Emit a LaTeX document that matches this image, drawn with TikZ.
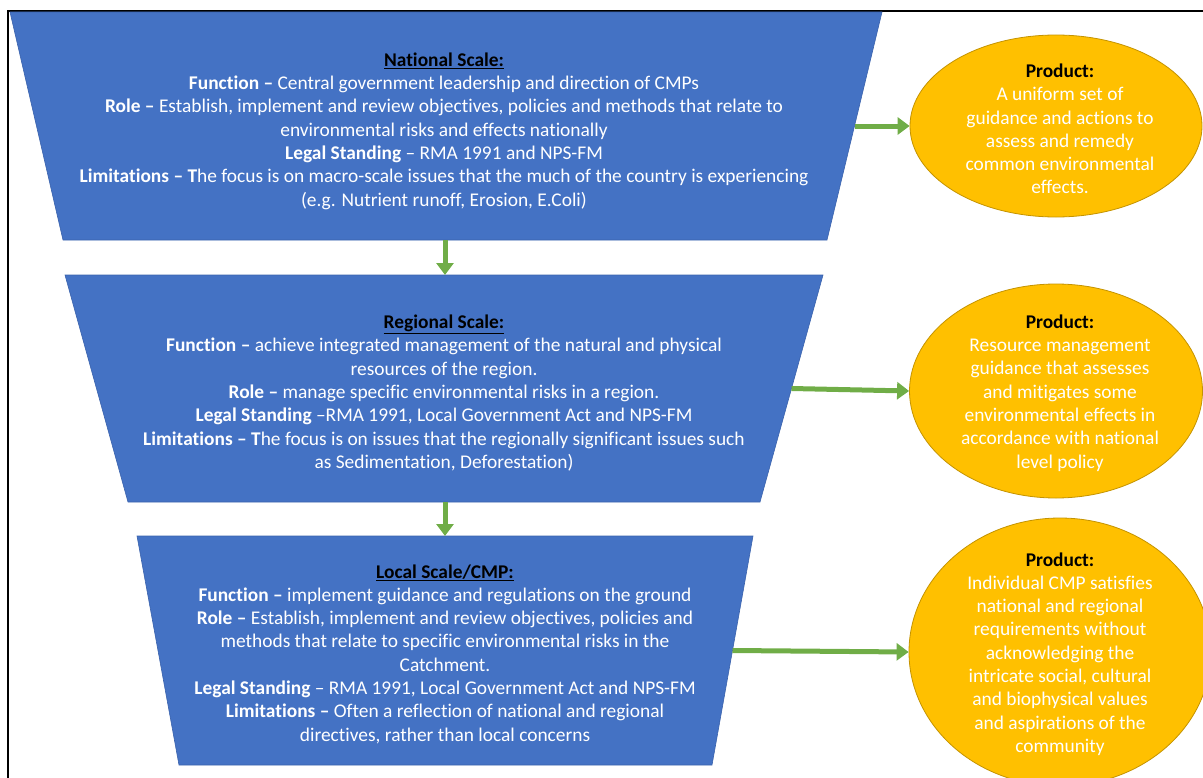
\documentclass[tikz,border=0pt]{standalone}
\usepackage{fontspec}
\setmainfont[Ligatures={NoCommon}]{Carlito}
\usetikzlibrary{arrows.meta,shapes.geometric,calc}
\definecolor{tblue}{HTML}{4472C4}
\definecolor{tedge}{HTML}{3A62AC}
\definecolor{pgold}{HTML}{FFC000}
\definecolor{pedge}{HTML}{C49300}
\definecolor{agreen}{HTML}{70AD47}
\begin{document}
\begin{tikzpicture}[x=1bp,y=-1bp,
 scalebox/.style={fill=tblue,draw=tedge,line width=0.6bp},
 prodshape/.style={ellipse,fill=pgold,draw=pedge,line width=0.8bp,inner sep=0pt},
 bodytext/.style={text=white,align=center,font=\fontsize{19.4bp}{23.3bp}\selectfont,inner sep=0pt},
 prodtext/.style={text=white,align=center,font=\fontsize{19.4bp}{23.3bp}\selectfont,inner sep=0pt},
 flow/.style={draw=agreen,line width=5bp,-{Triangle[width=17bp,length=12bp]}},
 ]
\useasboundingbox (0,0) rectangle (1203,778);
\draw[line width=1.5bp] (8,778) -- (8,11) -- (1203,11);

% National trapezium
\coordinate (ntl) at (10,12); \coordinate (ntr) at (882,12);
\coordinate (nbr) at (827,240); \coordinate (nbl) at (63,240);
\filldraw[scalebox] (ntl) -- (ntr) -- (nbr) -- (nbl) -- cycle;
\coordinate (nbot) at (445,240);
\coordinate (nright) at ($(ntr)!0.5!(nbr)$);

% Regional trapezium
\coordinate (rtl) at (65,275); \coordinate (rtr) at (823,275);
\coordinate (rbr) at (760,502); \coordinate (rbl) at (128,502);
\filldraw[scalebox] (rtl) -- (rtr) -- (rbr) -- (rbl) -- cycle;
\coordinate (rtop) at (445,275);
\coordinate (rbot) at (445,502);
\coordinate (rright) at ($(rtr)!0.5!(rbr)$);

% Local trapezium
\coordinate (ltl) at (137,536); \coordinate (ltr) at (753,536);
\coordinate (lbr) at (712,765); \coordinate (lbl) at (179,765);
\filldraw[scalebox] (ltl) -- (ltr) -- (lbr) -- (lbl) -- cycle;
\coordinate (ltop) at (445,536);
\coordinate (lright) at ($(ltr)!0.5!(lbr)$);

% texts
\node[bodytext] (ntext) at (444,131) {%
{\color{black}\underline{\textbf{National Scale:}}}\\
\textbf{Function –} Central government leadership and direction of CMPs\\
\textbf{Role –} Establish, implement and review objectives, policies and methods that relate to\\
environmental risks and effects nationally\\
\textbf{Legal Standing} – RMA 1991 and NPS-FM\\
\textbf{Limitations – T}he focus is on macro-scale issues that the much of the country is experiencing\\
(e.g. Nutrient runoff, Erosion, E.Coli)};

\node[bodytext] (rtext) at (444,393) {%
{\color{black}\underline{\textbf{Regional Scale:}}}\\
\textbf{Function –} achieve integrated management of the natural and physical\\
resources of the region.\\
\textbf{Role –} manage specific environmental risks in a region.\\
\textbf{Legal Standing} –RMA 1991, Local Government Act and NPS-FM\\
\textbf{Limitations – T}he focus is on issues that the regionally significant issues such\\
as Sedimentation, Deforestation)};

\node[bodytext] (ltext) at (445,654) {%
{\color{black}\underline{\textbf{Local Scale/CMP:}}}\\
\textbf{Function –} implement guidance and regulations on the ground\\
\textbf{Role –} Establish, implement and review objectives, policies and\\
methods that relate to specific environmental risks in the\\
Catchment.\\
\textbf{Legal Standing} – RMA 1991, Local Government Act and NPS-FM\\
\textbf{Limitations –} Often a reflection of national and regional\\
directives, rather than local concerns};

% product ellipses
\node[prodshape,minimum width=292bp,minimum height=182bp] (p1) at (1056,126) {};
\node[prodshape,minimum width=293bp,minimum height=214bp] (p2) at (1056,391) {};
\node[prodshape,minimum width=302bp,minimum height=268bp] (p3) at (1060,652) {};

\node[prodtext] (p1t) at (1060,129) {%
{\color{black}\textbf{Product:}}\\
A uniform set of\\
guidance and actions to\\
assess and remedy\\
common environmental\\
effects.};
\node[prodtext] (p2t) at (1060,393) {%
{\color{black}\textbf{Product:}}\\
Resource management\\
guidance that assesses\\
and mitigates some\\
environmental effects in\\
accordance with national\\
level policy};
\node[prodtext] (p3t) at (1060,654) {%
{\color{black}\textbf{Product:}}\\
Individual CMP satisfies\\
national and regional\\
requirements without\\
acknowledging the\\
intricate social, cultural\\
and biophysical values\\
and aspirations of the\\
community};

% connectors
\draw[flow] (nbot) -- (rtop);
\draw[flow] (rbot) -- (ltop);
\draw[flow] (nright) -- (p1.west);
\draw[flow] (rright) -- (p2.west);
\draw[flow] (lright) -- (p3.west);
\end{tikzpicture}
\end{document}
